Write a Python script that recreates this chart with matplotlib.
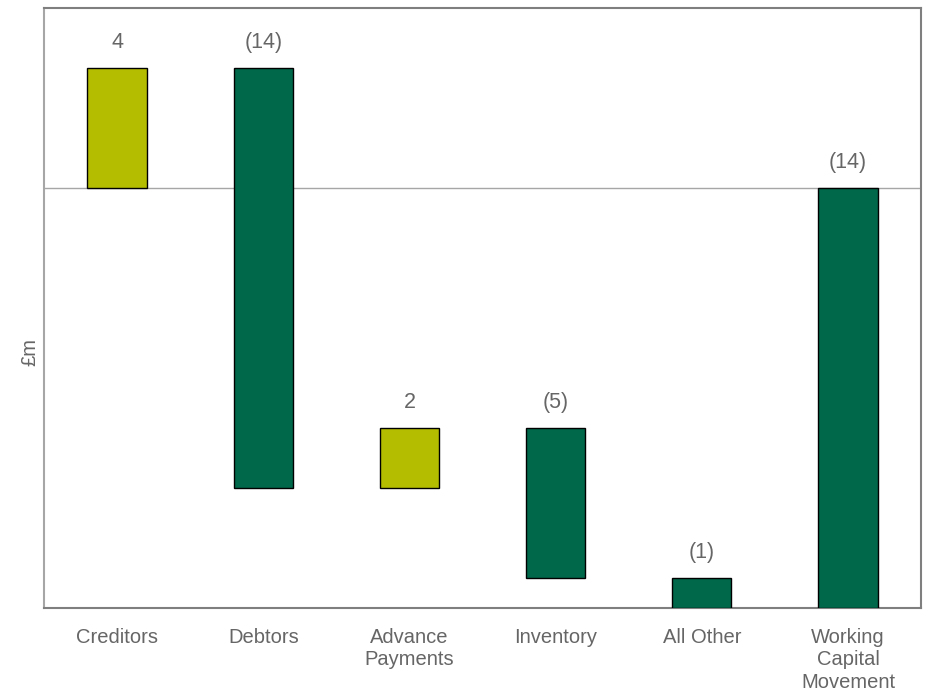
import numpy as np
import matplotlib.pyplot as plt

plt.rcParams["font.family"] = ["Liberation Sans", "DejaVu Sans"]

# working capital bridge, £m
categories = ["Creditors", "Debtors", "Advance\nPayments", "Inventory", "All Other",
              "Working\nCapital\nMovement"]
changes = [4, -14, 2, -5, -1]
labels = ["4", "(14)", "2", "(5)", "(1)", "(14)"]

up_color = "#B5BD00"
down_color = "#00684A"
text_color = "#666666"

# running totals for the floating bars
ends = np.cumsum(changes)
starts = np.concatenate([[0], ends[:-1]])
total = ends[-1]

bottoms = list(np.minimum(starts, ends)) + [min(0, total)]
heights = list(np.abs(changes)) + [abs(total)]
colors = [up_color if c > 0 else down_color for c in changes] + [down_color]
tops = [b + h for b, h in zip(bottoms, heights)]

fig, ax = plt.subplots(figsize=(9.28, 6.95), dpi=100)
fig.subplots_adjust(left=0.0474, right=0.9925, top=0.9885, bottom=0.125)

x = np.arange(len(categories))
ax.bar(x, heights, bottom=bottoms, width=0.405, color=colors,
       edgecolor="black", linewidth=1.0, zorder=3)

ax.axhline(0, color="#A6A6A6", linewidth=1.0, zorder=2)

for xi, top, lab in zip(x, tops, labels):
    ax.text(xi, top + 0.5, lab, ha="center", va="bottom",
            fontsize=15.5, color=text_color)

ax.set_xlim(-0.5, len(categories) - 0.5)
ax.set_ylim(-14, 6)
ax.set_yticks([])
ax.set_xticks(x)
ax.set_xticklabels(categories, fontsize=14.5, color=text_color, linespacing=1.25)
ax.tick_params(axis="x", length=0, pad=14)
ax.set_ylabel("£m", fontsize=14.5, color=text_color)
ax.yaxis.set_label_coords(-0.005, 0.427)

for side in ["top", "bottom", "right"]:
    ax.spines[side].set_color("#7F7F7F")
ax.spines["left"].set_color("#A6A6A6")
for s in ax.spines.values():
    s.set_linewidth(1.5)

plt.savefig("out.png", dpi=100)
